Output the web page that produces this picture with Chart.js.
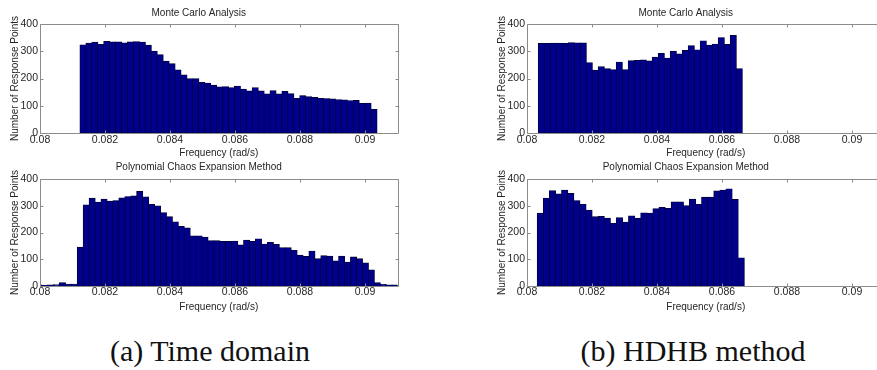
<!DOCTYPE html>
<html>
<head>
<meta charset="utf-8">
<script src="https://cdn.jsdelivr.net/npm/chart.js@4.4.1/dist/chart.umd.min.js"></script>
<style>
  html, body { margin: 0; padding: 0; background: #fff; }
  body { width: 877px; height: 370px; overflow: hidden; position: relative; }
  canvas { position: absolute; }
  .cap { position: absolute; font-family: 'Liberation Serif', 'DejaVu Serif', serif; font-size: 30px; line-height: 30px; color: #111; white-space: nowrap; transform: translateX(-50%); }
</style>
</head>
<body>
<canvas id="c1" width="410" height="160" style="left:0px;top:0px"></canvas>
<canvas id="c2" width="410" height="160" style="left:0px;top:160px"></canvas>
<canvas id="c3" width="410" height="160" style="left:487px;top:0px"></canvas>
<canvas id="c4" width="410" height="160" style="left:487px;top:160px"></canvas>
<div class="cap" style="left:210px;top:336px">(a) Time domain</div>
<div class="cap" style="left:693px;top:336px">(b) HDHB method</div>
<script>
// ---- data ----
const xTicks = [0.08, 0.082, 0.084, 0.086, 0.088, 0.09];
const xTickLabels = ['0.08', '0.082', '0.084', '0.086', '0.088', '0.09'];
const yTicks = [0, 100, 200, 300, 400];
const yTickLabels = ['0', '100', '200', '300', '400'];

const titleMC = 'Monte Carlo Analysis';
const titlePCE = 'Polynomial Chaos Expansion Method';
const xTitle = 'Frequency (rad/s)';
const yTitle = 'Number of Response Points';

// histogram bins: first bin edge and bin width (rad/s)
const tdMcBin = [0.081231, 0.00018277];
const tdPceBin = [0.079869, 0.00018277];
const hdMcBin = [0.080348, 0.0001846];
const hdPceBin = [0.080317, 0.0001873];

// counts per bin
const tdMcCounts = [323,329,333,325,336,334,334,330,334,335,333,322,300,287,263,254,231,213,199,199,185,183,175,169,170,166,172,161,154,166,154,143,155,143,152,144,127,137,133,130,127,126,125,122,121,118,119,108,109,86];
const tdPceCounts = [4,3,4,5,12,7,7,145,303,328,313,324,317,319,329,334,336,353,333,305,299,274,259,239,222,217,187,187,182,169,169,166,166,167,153,171,166,176,156,163,155,143,143,133,115,110,130,102,113,111,93,111,89,108,102,86,60,12,6,4,4];
const hdMcCounts = [328,328,329,329,328,331,330,330,258,230,243,236,232,260,232,265,266,268,264,278,292,274,300,290,303,320,305,338,322,326,350,325,358,236];
const hdPceCounts = [272,328,356,344,358,346,319,305,283,259,260,253,234,255,238,262,253,273,272,289,293,290,314,314,300,324,305,332,332,355,358,363,323,105];

// ---- styling ----
const barFill = '#00008a';
const barEdge = '#00002a';
const frameColor = '#8c8c8c';
const textColor = '#262626';
const FONT = "'Liberation Sans', Arial, Helvetica, sans-serif";

Chart.defaults.font.family = FONT;
Chart.defaults.font.size = 10;
Chart.defaults.color = textColor;

function toPoints(bin, counts) {
  return counts.map((c, i) => ({ x: bin[0] + (i + 0.5) * bin[1], y: c }));
}

const framePlugin = {
  id: 'matlabFrame',
  afterDatasetsDraw(chart) {
    const { ctx, chartArea: a, scales: { x, y } } = chart;
    const L = Math.round(a.left) + 0.5, R = Math.round(a.right) + 0.5;
    const T = Math.round(a.top) + 0.5, B = Math.round(a.bottom) + 0.5;
    const tl = 3;
    ctx.save();
    ctx.strokeStyle = frameColor;
    ctx.lineWidth = 1;
    ctx.beginPath();
    ctx.rect(L, T, R - L, B - T);
    xTicks.forEach(v => {
      const px = Math.round(x.getPixelForValue(v)) + 0.5;
      ctx.moveTo(px, B); ctx.lineTo(px, B - tl);
      ctx.moveTo(px, T); ctx.lineTo(px, T + tl);
    });
    yTicks.forEach(v => {
      const py = Math.round(y.getPixelForValue(v)) + 0.5;
      ctx.moveTo(L, py); ctx.lineTo(L + tl, py);
      ctx.moveTo(R, py); ctx.lineTo(R - tl, py);
    });
    ctx.stroke();
    ctx.restore();
  }
};

function makeChart(id, title, bin, counts, isTop) {
  const xScaleHeight = isTop ? 27 : 34;
  new Chart(document.getElementById(id), {
    type: 'bar',
    data: {
      datasets: [{
        data: toPoints(bin, counts),
        backgroundColor: barFill,
        borderColor: barEdge,
        borderWidth: 0.7,
        borderSkipped: false,
        barPercentage: 1,
        categoryPercentage: 1,
        inflateAmount: 0.5
      }]
    },
    options: {
      responsive: false,
      animation: false,
      devicePixelRatio: 1,
      layout: { padding: { left: 0, right: 12.5, top: 0, bottom: 0 } },
      plugins: {
        legend: { display: false },
        tooltip: { enabled: false },
        title: {
          display: true,
          text: title,
          color: textColor,
          font: { size: 10, weight: 'normal', family: FONT, lineHeight: 1.2 },
          padding: isTop ? { top: 7, bottom: 5 } : { top: 1, bottom: 6 }
        }
      },
      scales: {
        x: {
          type: 'linear',
          min: 0.08,
          max: 0.091,
          offset: false,
          grid: { display: false, drawTicks: false, offset: false },
          border: { display: false },
          afterBuildTicks: s => { s.ticks = xTicks.map(v => ({ value: v })); },
          afterFit: s => { s.height = xScaleHeight; },
          ticks: {
            padding: isTop ? 1 : 0,
            autoSkip: false,
            maxRotation: 0,
            font: { size: 10.5, family: FONT },
            color: textColor,
            callback: (v, i) => xTickLabels[i]
          },
          title: {
            display: true,
            text: xTitle,
            color: textColor,
            font: { size: 10, family: FONT, lineHeight: 1.2 },
            padding: { top: 0, bottom: isTop ? 1 : 7 }
          }
        },
        y: {
          min: 0,
          max: 400,
          grid: { display: false, drawTicks: false },
          border: { display: false },
          afterBuildTicks: s => { s.ticks = yTicks.map(v => ({ value: v })); },
          afterFit: s => { s.width = 40; },
          ticks: {
            padding: 2,
            font: { size: 10.5, family: FONT },
            color: textColor,
            callback: (v, i) => yTickLabels[i]
          },
          title: {
            display: true,
            text: yTitle,
            color: textColor,
            font: { size: 10, family: FONT, lineHeight: 1.2 },
            padding: { top: 9, bottom: 0 }
          }
        }
      }
    },
    plugins: [framePlugin]
  });
}

makeChart('c1', titleMC, tdMcBin, tdMcCounts, true);
makeChart('c2', titlePCE, tdPceBin, tdPceCounts, false);
makeChart('c3', titleMC, hdMcBin, hdMcCounts, true);
makeChart('c4', titlePCE, hdPceBin, hdPceCounts, false);
</script>
</body>
</html>
